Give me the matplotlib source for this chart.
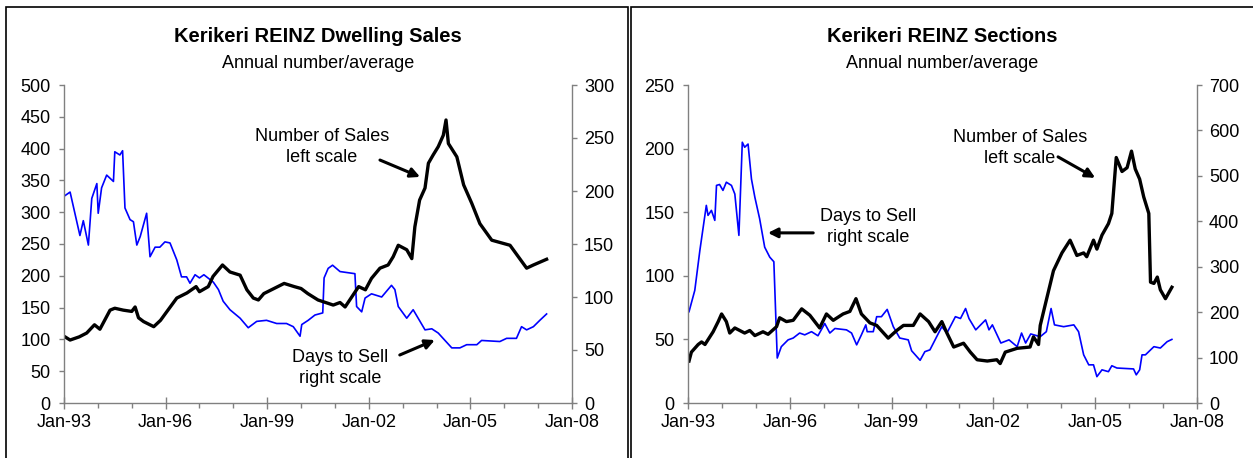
"""Kerikeri REINZ dwelling and section sales vs days to sell (two panels)."""

import matplotlib

matplotlib.use("Agg")

import matplotlib.pyplot as plt  # noqa: E402
from matplotlib.patches import Rectangle  # noqa: E402
from matplotlib.ticker import FixedLocator, MultipleLocator  # noqa: E402

plt.rcParams["font.family"] = ["Liberation Sans", "DejaVu Sans"]

# Dwelling sales (annual number, left scale), x in decimal years
dwell_sales_t = [1993.0, 1993.18, 1993.45, 1993.67, 1993.9, 1994.06, 1994.36, 1994.5, 1994.75,
                 1995.0, 1995.1, 1995.2, 1995.35, 1995.65, 1995.85, 1996.0, 1996.33, 1996.63,
                 1996.9, 1997.0, 1997.26, 1997.4, 1997.68, 1997.9, 1998.2, 1998.4, 1998.59,
                 1998.74, 1998.9, 1999.2, 1999.5, 1999.8, 2000.0, 2000.2, 2000.5, 2000.95,
                 2001.15, 2001.3, 2001.5, 2001.7, 2001.9, 2002.08, 2002.33, 2002.57, 2002.72,
                 2002.87, 2003.12, 2003.27, 2003.36, 2003.5, 2003.66, 2003.76, 2003.9, 2004.05,
                 2004.2, 2004.28, 2004.35, 2004.6, 2004.8, 2005.04, 2005.28, 2005.63, 2006.17,
                 2006.66, 2006.86, 2007.25]
dwell_sales = [105, 99, 104, 110, 123, 116, 146, 149, 146,
               144, 151, 134, 128, 120, 130, 141, 165, 173,
               183, 175, 183, 199, 217, 206, 201, 178, 165,
               162, 172, 180, 188, 183, 180, 172, 162, 154,
               158, 151, 167, 183, 178, 196, 212, 217, 230,
               248, 241, 227, 277, 319, 338, 377, 390, 403,
               421, 445, 408, 387, 343, 314, 282, 256, 248,
               212, 217, 226]

# Dwelling days to sell (average, right scale)
dwell_days_t = [1993.0, 1993.18, 1993.47, 1993.57, 1993.72, 1993.82, 1993.97, 1994.01, 1994.11,
                1994.26, 1994.46, 1994.5, 1994.65, 1994.73, 1994.8, 1994.95, 1995.05, 1995.15,
                1995.25, 1995.44, 1995.54, 1995.69, 1995.83, 1995.98, 1996.13, 1996.33, 1996.47,
                1996.62, 1996.72, 1996.87, 1997.0, 1997.13, 1997.41, 1997.56, 1997.7, 1997.9,
                1998.2, 1998.44, 1998.69, 1998.98, 1999.28, 1999.57, 1999.77, 1999.97, 2000.02,
                2000.21, 2000.41, 2000.64, 2000.68, 2000.8, 2000.93, 2001.15, 2001.59, 2001.64,
                2001.79, 2001.89, 2002.08, 2002.38, 2002.67, 2002.77, 2002.87, 2003.12, 2003.31,
                2003.66, 2003.86, 2004.05, 2004.45, 2004.69, 2004.89, 2005.19, 2005.33, 2005.87,
                2006.07, 2006.36, 2006.51, 2006.66, 2006.86, 2007.05, 2007.25]
dwell_days = [195, 199, 158, 172, 149, 193, 207, 179, 203,
              215, 209, 237, 234, 238, 184, 173, 171, 149,
              157, 179, 138, 147, 147, 152, 151, 135, 119,
              119, 113, 121, 118, 121, 114, 107, 96, 88,
              80, 71, 77, 78, 75, 75, 72, 63, 74,
              78, 83, 85, 118, 127, 130, 124, 122, 91,
              86, 99, 103, 100, 111, 107, 91, 80, 88,
              69, 70, 66, 52, 52, 55, 55, 59, 58,
              61, 61, 72, 69, 72, 78, 84]

# Section sales (annual number, left scale)
sect_sales_t = [1993.03, 1993.1, 1993.3, 1993.4, 1993.5, 1993.74, 1993.89, 1993.99, 1994.13,
                1994.23, 1994.38, 1994.67, 1994.82, 1994.97, 1995.21, 1995.36, 1995.61, 1995.7,
                1995.9, 1996.1, 1996.35, 1996.59, 1996.88, 1997.08, 1997.28, 1997.57, 1997.77,
                1997.95, 1998.11, 1998.36, 1998.56, 1998.9, 1999.15, 1999.35, 1999.64, 1999.84,
                2000.09, 2000.28, 2000.48, 2000.63, 2000.83, 2001.12, 2001.32, 2001.52, 2001.82,
                2002.1, 2002.2, 2002.35, 2002.7, 2003.08, 2003.18, 2003.33, 2003.38, 2003.57,
                2003.77, 2004.02, 2004.26, 2004.46, 2004.66, 2004.75, 2004.95, 2005.05, 2005.2,
                2005.39, 2005.49, 2005.62, 2005.79, 2005.94, 2006.07, 2006.18, 2006.31, 2006.43,
                2006.58, 2006.63, 2006.73, 2006.83, 2006.92, 2007.07, 2007.26]
sect_sales = [33, 40, 46, 48, 46, 56, 64, 70, 64,
              55, 59, 55, 57, 53, 56, 54, 60, 67,
              64, 65, 74, 69, 59, 70, 65, 70, 72,
              82, 70, 63, 61, 51, 57, 61, 61, 70,
              64, 56, 64, 55, 44, 47, 40, 34, 33,
              34, 31, 40, 43, 44, 52, 46, 61, 82,
              104, 118, 128, 116, 118, 115, 128, 121, 132,
              141, 149, 193, 182, 185, 198, 184, 176, 162,
              149, 95, 94, 99, 89, 82, 91]

# Section days to sell (average, right scale)
sect_days_t = [1993.03, 1993.2, 1993.35, 1993.54, 1993.59, 1993.69, 1993.79, 1993.84, 1993.93,
               1994.03, 1994.13, 1994.28, 1994.38, 1994.5, 1994.6, 1994.67, 1994.77, 1994.87,
               1994.97, 1995.11, 1995.26, 1995.41, 1995.53, 1995.63, 1995.75, 1995.95, 1996.1,
               1996.29, 1996.44, 1996.64, 1996.83, 1997.03, 1997.18, 1997.33, 1997.67, 1997.82,
               1997.97, 1998.11, 1998.24, 1998.28, 1998.46, 1998.56, 1998.7, 1998.87, 1999.05,
               1999.24, 1999.49, 1999.59, 1999.84, 1999.98, 2000.13, 2000.48, 2000.63, 2000.88,
               2001.03, 2001.18, 2001.28, 2001.48, 2001.77, 2001.87, 2001.97, 2002.22, 2002.46,
               2002.7, 2002.83, 2002.95, 2003.1, 2003.38, 2003.56, 2003.7, 2003.8, 2004.07,
               2004.37, 2004.51, 2004.66, 2004.81, 2004.95, 2005.05, 2005.2, 2005.39, 2005.49,
               2005.64, 2006.13, 2006.21, 2006.31, 2006.38, 2006.48, 2006.73, 2006.92, 2007.12,
               2007.26]
sect_days = [201, 248, 336, 435, 413, 424, 402, 479, 481,
             468, 486, 479, 460, 369, 574, 563, 570, 493,
             453, 406, 343, 321, 311, 99, 124, 139, 143,
             154, 150, 157, 148, 175, 154, 164, 161, 154,
             128, 150, 172, 157, 157, 190, 190, 206, 168,
             143, 139, 115, 94, 113, 117, 168, 154, 190,
             186, 208, 186, 161, 183, 161, 172, 132, 139,
             124, 154, 132, 152, 146, 157, 208, 172, 168,
             172, 157, 106, 84, 84, 58, 73, 69, 82,
             77, 75, 62, 73, 106, 106, 124, 121, 135,
             140]

x_ticks = [1993, 1996, 1999, 2002, 2005, 2008]
x_labels = ["Jan-93", "Jan-96", "Jan-99", "Jan-02", "Jan-05", "Jan-08"]

FS = 13
GREY = "#808080"


def style_axes(ax, ax2):
    """Excel-like grey spines, outward ticks, Jan-YY labels."""
    ax.set_xlim(1993, 2008)
    ax.xaxis.set_major_locator(FixedLocator(x_ticks))
    ax.set_xticklabels(x_labels)
    ax.xaxis.set_minor_locator(MultipleLocator(1))
    for a in (ax, ax2):
        for side in ("top", "left", "right", "bottom"):
            a.spines[side].set_visible(False)
    ax.spines["left"].set_visible(True)
    ax.spines["bottom"].set_visible(True)
    ax2.spines["right"].set_visible(True)
    for sp in (ax.spines["left"], ax.spines["bottom"], ax2.spines["right"]):
        sp.set_color(GREY)
        sp.set_linewidth(1.0)
    ax.tick_params(axis="x", which="major", direction="inout", length=8, width=1,
                   color=GREY, labelsize=FS, pad=4)
    ax.tick_params(axis="x", which="minor", direction="out", length=3.6, width=1, color=GREY)
    ax.tick_params(axis="y", direction="out", length=3.6, width=1, color=GREY,
                   labelsize=FS, pad=6)
    ax2.tick_params(axis="y", direction="out", length=3.6, width=1, color=GREY,
                    labelsize=FS, pad=5)
    ax.set_zorder(ax2.get_zorder() + 1)
    ax.patch.set_visible(False)


def note(ax, text, xy_text, xy_head, xy_tail):
    ax.text(*xy_text, text, transform=ax.transAxes, ha="center", va="center",
            fontsize=FS, linespacing=1.35)
    ax.annotate("", xy=xy_head, xytext=xy_tail, xycoords="axes fraction",
                textcoords="axes fraction",
                arrowprops=dict(arrowstyle="-|>", color="black", lw=2.2,
                                mutation_scale=14, shrinkA=0, shrinkB=0,
                                facecolor="white"))


fig = plt.figure(figsize=(12.53, 4.58), dpi=100)

# panel frames
fig.patches.append(Rectangle((6 / 1253, -0.1), 622 / 1253, 1.1 - 7 / 458,
                             transform=fig.transFigure, fill=False,
                             edgecolor="black", lw=1.2))
fig.patches.append(Rectangle((631 / 1253, -0.1), 0.6, 1.1 - 7 / 458,
                             transform=fig.transFigure, fill=False,
                             edgecolor="black", lw=1.2))

# ---- left panel: dwellings
ax = fig.add_axes([64 / 1253, 55 / 458, 508 / 1253, 318 / 458])
ax2 = ax.twinx()
ax2.plot(dwell_days_t, dwell_days, color="#0000FF", lw=1.2)
ax.plot(dwell_sales_t, dwell_sales, color="black", lw=2.4)
ax.set_ylim(0, 500)
ax.yaxis.set_major_locator(MultipleLocator(50))
ax2.set_ylim(0, 300)
ax2.yaxis.set_major_locator(MultipleLocator(50))
style_axes(ax, ax2)
note(ax, "Number of Sales\nleft scale", (0.508, 0.805), (0.701, 0.711), (0.622, 0.764))
note(ax, "Days to Sell\nright scale", (0.543, 0.110), (0.730, 0.198), (0.661, 0.151))
fig.text(318 / 1253, 1 - 37 / 458, "Kerikeri REINZ Dwelling Sales", ha="center",
         va="center", fontsize=14.5, fontweight="bold")
fig.text(318 / 1253, 1 - 64 / 458, "Annual number/average", ha="center",
         va="center", fontsize=FS)

# ---- right panel: sections
bx = fig.add_axes([688 / 1253, 55 / 458, 509 / 1253, 318 / 458])
bx2 = bx.twinx()
bx2.plot(sect_days_t, sect_days, color="#0000FF", lw=1.2)
bx.plot(sect_sales_t, sect_sales, color="black", lw=2.4)
bx.set_ylim(0, 250)
bx.yaxis.set_major_locator(MultipleLocator(50))
bx2.set_ylim(0, 700)
bx2.yaxis.set_major_locator(MultipleLocator(100))
style_axes(bx, bx2)
note(bx, "Days to Sell\nright scale", (0.354, 0.553), (0.157, 0.535), (0.246, 0.535))
note(bx, "Number of Sales\nleft scale", (0.652, 0.802), (0.800, 0.708), (0.727, 0.774))
fig.text(942.5 / 1253, 1 - 37 / 458, "Kerikeri REINZ Sections", ha="center",
         va="center", fontsize=14.5, fontweight="bold")
fig.text(942.5 / 1253, 1 - 64 / 458, "Annual number/average", ha="center",
         va="center", fontsize=FS)

fig.savefig("out.png", dpi=100)
